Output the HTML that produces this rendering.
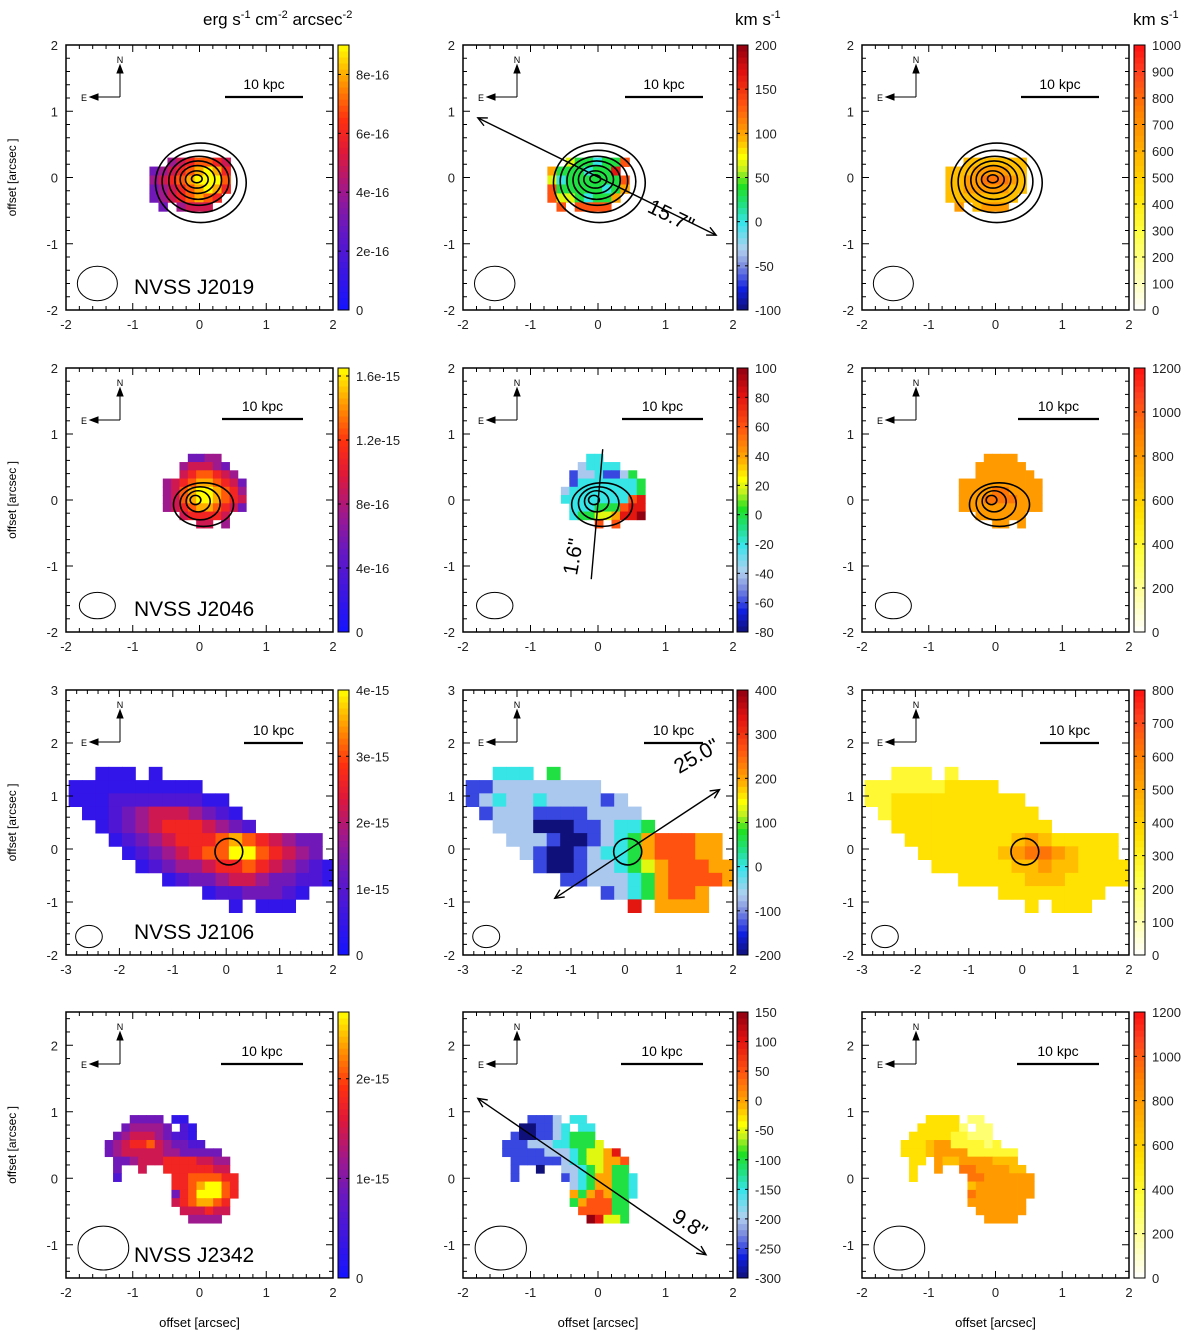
<!DOCTYPE html>
<html><head><meta charset="utf-8">
<style>
html,body{margin:0;padding:0;background:#fff;}
svg{display:block;font-family:"Liberation Sans","DejaVu Sans",sans-serif;}
</style></head>
<body>
<svg id="fig" width="1200" height="1333" viewBox="0 0 1200 1333" xmlns="http://www.w3.org/2000/svg"></svg>
<script>
// ---- layout / axis data ----
const colLeft = [66, 463, 862];
const colRight = [333, 733, 1129];
const rowTop = [45, 368, 690, 1012];
const rowBottom = [310, 632, 955, 1278];
const xRanges = [[-2,2],[-2,2],[-3,2],[-2,2]];
const yRanges = [[-2,2],[-2,2],[-2,3],[-1.5,2.5]];
const xTickLabels = [[-2,-1,0,1,2],[-2,-1,0,1,2],[-3,-2,-1,0,1,2],[-2,-1,0,1,2]];
const yTickLabels = [[-2,-1,0,1,2],[-2,-1,0,1,2],[-2,-1,0,1,2,3],[-1,0,1,2]];
const objectNames = ["NVSS J2019","NVSS J2046","NVSS J2106","NVSS J2342"];

// colorbar ranges [row][col]
const cbMin = [[0,-100,0],[0,-80,0],[0,-200,0],[0,-300,0]];
const cbMax = [[9e-16,200,1000],[1.65e-15,100,1200],[4e-15,400,800],[2.67e-15,150,1200]];
const cbTicks = [
  [[0,2e-16,4e-16,6e-16,8e-16],[-100,-50,0,50,100,150,200],[0,100,200,300,400,500,600,700,800,900,1000]],
  [[0,4e-16,8e-16,1.2e-15,1.6e-15],[-80,-60,-40,-20,0,20,40,60,80,100],[0,200,400,600,800,1000,1200]],
  [[0,1e-15,2e-15,3e-15,4e-15],[-200,-100,0,100,200,300,400],[0,100,200,300,400,500,600,700,800]],
  [[0,1e-15,2e-15],[-300,-250,-200,-150,-100,-50,0,50,100,150],[0,200,400,600,800,1000,1200]]
];
const cbTickText = [
  [["0","2e-16","4e-16","6e-16","8e-16"],null,null],
  [["0","4e-16","8e-16","1.2e-15","1.6e-15"],null,null],
  [["0","1e-15","2e-15","3e-15","4e-15"],null,null],
  [["0","1e-15","2e-15"],null,null]
];

// ---- map grids: origin (arcsec, top-left), cell size, value strings (0-9) ----
const gridX0 = [-0.75, -0.55, -2.95, -1.42];
const gridY0 = [0.30, 0.70, 1.55, 0.95];
const gridCell = [0.135, 0.125, 0.25, 0.125];

const r1Flux = ["..4567765","345678986","456789997","345678986","34567876.",".3.4555.."];
const r1Vel  = ["..5443447","64443448.","534444447","744444346","75543446.",".7.7777.."];
const r1Sig  = ["..5555555","555666655","556677765","556666655","55555555.",".6.5666.."];

const r2Flux = ["...3344...","..455543..","..5677654.","4567887653","4578998764","4578998765","4567887653","..566665..","....55.4.."];
const r2Vel  = ["...33.....","..23333...",".12231124.",".133333334","2333333334","3333333378",".333444788",".344556889","....7.7..."];
const r2Sig  = ["...6666...","..666666..","..6666666.","6666666666","6666776666","6667777666","6666666666","..666666..","....66.6.."];

const r3Flux = [
 "..111.1",
 "1111111111",
 "111222222211",
 ".112345554321",
 "..123456665432",
 "...1234566678765433",
 "....123456779976543",
 ".....123445667654321",
 ".......1233455433221",
 "..........12233321",
 "............1.111"];
const r3Vel = [
 "..333.4",
 "1122222222",
 "123223222212",
 ".122211112222",
 "..222000112334",
 "...2221001234677766",
 "....210012334677766",
 ".....100122345677766",
 ".......1122234677776",
 "..........12346776",
 "............8.6666"];
const r3Sig = [
 "..333.3",
 "3333334444",
 "334444444444",
 ".344444444444",
 "..444444444444",
 "...4444444456544444",
 "....444444567765444",
 ".....444444556554444",
 ".......4444455544444",
 "..........44444444",
 "............4.444"];

const r4Flux = [
 "...3333.11",
 "..344443.21",
 ".3455543221",
 "345667543322",
 "34555554433333",
 ".33455566665544",
 ".3..5..66666655",
 ".2......66777766",
 "........66789976",
 "........36799976",
 "........5678876",
 ".........555655",
 "..........4444"];
const r4Vel = [
 "...1112.33",
 "..001123.33",
 ".1001123444",
 "111222334445",
 "11111222345568",
 ".11111123455667",
 ".1..0..22345644",
 ".1.....123466443",
 "........23466443",
 "........64676443",
 "........4677744",
 ".........777744",
 "..........98554"];
const r4Sig = [
 "...4444.22",
 "..444442.22",
 ".4444433222",
 "444566333323",
 "44456666333333",
 ".44.6556666555",
 ".4..6..77666655",
 ".4......77666666",
 "........56666666",
 "........76666666",
 "........6666666",
 ".........666666",
 "..........6666"];

const gridSets = [[r1Flux,r1Vel,r1Sig],[r2Flux,r2Vel,r2Sig],[r3Flux,r3Vel,r3Sig],[r4Flux,r4Vel,r4Sig]];

// contours: [cx, cy, rx, ry] in arcsec
const contourRow1 = [[-0.04,-0.02,0.08,0.06],[-0.04,-0.03,0.17,0.13],[-0.03,-0.03,0.26,0.21],[-0.02,-0.04,0.35,0.29],[-0.01,-0.05,0.45,0.37],[0.0,-0.06,0.56,0.47],[0.02,-0.08,0.68,0.6]];
const contourRow2 = [[-0.06,0.0,0.08,0.07],[-0.02,-0.02,0.18,0.16],[0.01,-0.05,0.3,0.25],[0.06,-0.07,0.45,0.33]];
const contourRow3 = [[0.05,-0.05,0.26,0.25]];
const contourSets = [contourRow1, contourRow2, contourRow3, []];

// beams: [cx, cy, rx, ry] in arcsec
const beamRow = [[-1.53,-1.6,0.3,0.26],[-1.53,-1.6,0.27,0.2],[-2.57,-1.65,0.25,0.21],[-1.44,-1.05,0.38,0.33]];

// PA lines in velocity panels: [x1,y1,x2,y2] arcsec + label
const paLines = [[-1.78,0.9,1.75,-0.87],[0.07,0.77,-0.1,-1.2],[-1.3,-0.93,1.75,1.12],[-1.78,1.2,1.6,-1.15]];
const paLabels = ["15.7\"","1.6\"","25.0\"","9.8\""];

// ---- colormaps ----
const fluxStops = [[0,[20,20,255]],[0.3,[100,24,196]],[0.45,[160,24,140]],[0.6,[225,24,56]],[0.72,[255,48,16]],[0.86,[255,150,0]],[1,[255,255,0]]];
const velStops = [[0,[16,16,122]],[0.08,[16,32,224]],[0.17,[128,144,224]],[0.23,[176,208,240]],[0.33,[56,228,235]],[0.40,[32,224,128]],[0.47,[32,224,32]],[0.53,[192,240,32]],[0.58,[255,255,0]],[0.65,[255,176,0]],[0.78,[255,80,16]],[0.9,[224,16,16]],[1,[144,0,16]]];
const sigStops = [[0,[255,255,255]],[0.15,[255,255,160]],[0.3,[255,255,64]],[0.45,[255,224,0]],[0.6,[255,176,0]],[0.75,[255,128,0]],[0.9,[255,64,32]],[1,[255,16,16]]];
const cmaps = [fluxStops, velStops, sigStops];
function cmap(stops, f){
  f=Math.max(0,Math.min(1,f));
  for(let i=1;i<stops.length;i++){
    if(f<=stops[i][0]){
      const a=stops[i-1],b=stops[i],t=(f-a[0])/(b[0]-a[0]);
      const c=a[1].map((v,k)=>Math.round(v+(b[1][k]-v)*t));
      return `rgb(${c[0]},${c[1]},${c[2]})`;
    }
  }
  const c=stops[stops.length-1][1];return `rgb(${c[0]},${c[1]},${c[2]})`;
}

const NS="http://www.w3.org/2000/svg";
const svg=document.getElementById('fig');
function el(tag, attrs, parent){
  const e=document.createElementNS(NS,tag);
  for(const k in attrs) e.setAttribute(k,attrs[k]);
  (parent||svg).appendChild(e);
  return e;
}

const defs=el('defs',{});

for(let r=0;r<4;r++){
  for(let c=0;c<3;c++){
    const L=colLeft[c],R=colRight[c],T=rowTop[r],B=rowBottom[r];
    const W=R-L,H=B-T;
    const xr=xRanges[r],yr=yRanges[r];
    const sx=v=>L+(v-xr[0])/(xr[1]-xr[0])*W;
    const sy=v=>T+(yr[1]-v)/(yr[1]-yr[0])*H;
    const g=el('g',{});
    
    
    const cp=el('clipPath',{id:`cp${r}${c}`},defs);
    el('rect',{x:L,y:T,width:W,height:H},cp);
    const mg=el('g',{'clip-path':`url(#cp${r}${c})`},g);
    
    
    const rows=gridSets[r][c];
    const cs=gridCell[r];
    rows.forEach((str,i)=>{
      for(let j=0;j<str.length;j++){
        const ch=str[j]; if(ch==='.') continue;
        const v=parseInt(ch,10)/9;
        const x0=sx(gridX0[r]+j*cs), x1=sx(gridX0[r]+(j+1)*cs);
        const y0=sy(gridY0[r]-i*cs), y1=sy(gridY0[r]-(i+1)*cs);
        const cell=el('rect',{x:x0,y:y0,width:x1-x0+0.4,height:y1-y0+0.4,fill:cmap(cmaps[c],v)},mg);
        
        
      }
    });
    contourSets[r].forEach(ct=>{
      const e=el('ellipse',{cx:sx(ct[0]),cy:sy(ct[1]),rx:ct[2]*W/(xr[1]-xr[0]),ry:ct[3]*H/(yr[1]-yr[0]),fill:'none',stroke:'#000','stroke-width':1.6},g);
      
      
    });
    const bm=beamRow[r];
    const be=el('ellipse',{cx:sx(bm[0]),cy:sy(bm[1]),rx:bm[2]*W/(xr[1]-xr[0]),ry:bm[3]*H/(yr[1]-yr[0]),fill:'none',stroke:'#000','stroke-width':1},g);
    
    
    const fr=el('rect',{x:L,y:T,width:W,height:H,fill:'none',stroke:'#000','stroke-width':1.5},g);
    
    
    const tg=el('g',{stroke:'#000','stroke-width':1},g);
    for(let v=Math.ceil(xr[0]/0.2)*0.2; v<=xr[1]+1e-6; v+=0.2){
      const isMaj=Math.abs(v-Math.round(v))<1e-6, len=isMaj?7:4, X=sx(v);
      el('line',{x1:X,y1:B,x2:X,y2:B-len},tg); el('line',{x1:X,y1:T,x2:X,y2:T+len},tg);
    }
    for(let v=Math.ceil(yr[0]/0.2-1e-6)*0.2; v<=yr[1]+1e-6; v+=0.2){
      const isMaj=Math.abs(v-Math.round(v))<1e-6, len=isMaj?7:4, Y=sy(v);
      el('line',{x1:L,y1:Y,x2:L+len,y2:Y},tg); el('line',{x1:R,y1:Y,x2:R-len,y2:Y},tg);
    }
    xTickLabels[r].forEach(v=>{
      const t=el('text',{x:sx(v),y:B+19,'font-size':13,'text-anchor':'middle',fill:'#222'},g);
      t.textContent=v;  
    });
    yTickLabels[r].forEach(v=>{
      const t=el('text',{x:L-8,y:sy(v)+5,'font-size':13,'text-anchor':'end',fill:'#222'},g);
      t.textContent=v;  
    });
    const cx=L+54, cy=T+52;
    const cg=el('g',{stroke:'#000','stroke-width':1,fill:'none'},g);
    
    
    el('line',{x1:cx,y1:cy,x2:cx,y2:cy-30},cg);
    el('line',{x1:cx,y1:cy,x2:cx-28,y2:cy},cg);
    el('path',{d:`M${cx-3},${cy-24} L${cx},${cy-32} L${cx+3},${cy-24} Z`,fill:'#000'},cg);
    el('path',{d:`M${cx-22},${cy-3} L${cx-30},${cy} L${cx-22},${cy+3} Z`,fill:'#000'},cg);
    let tn=el('text',{x:cx,y:cy-34,'font-size':9,'text-anchor':'middle'},g); tn.textContent='N';
     
    let te=el('text',{x:cx-33,y:cy+4,'font-size':9,'text-anchor':'end'},g); te.textContent='E';
     
    const sbLen=[78,81,59,82][r];
    const sbY=T+[52,51,53,52][r];
    const sbR=R-30;
    const sb=el('line',{x1:sbR-sbLen,y1:sbY,x2:sbR,y2:sbY,stroke:'#000','stroke-width':2.2},g);
     
    const st=el('text',{x:sbR-sbLen/2,y:sbY-8,'font-size':14,'text-anchor':'middle'},g); st.textContent='10 kpc';
     
    if(c===0){
      const nt=el('text',{x:L+68,y:B-16,'font-size':21},g); nt.textContent=objectNames[r];
       
      const yt=el('text',{x:0,y:0,'font-size':12,'text-anchor':'middle',transform:`translate(16,${(T+B)/2}) rotate(-90)`},g);
      yt.textContent='offset [arcsec ]';  
    }
    if(r===3){
      const xt=el('text',{x:(L+R)/2,y:1327,'font-size':13,'text-anchor':'middle'},g);
      xt.textContent='offset [arcsec]';  
    }
    if(c===1){
      const p=paLines[r];
      const X1=sx(p[0]),Y1=sy(p[1]),X2=sx(p[2]),Y2=sy(p[3]);
      const pl=el('line',{x1:X1,y1:Y1,x2:X2,y2:Y2,stroke:'#000','stroke-width':1.4},g);
       
      if(r!==1){
        const ang=Math.atan2(Y2-Y1,X2-X1);
        [[X1,Y1,ang+Math.PI],[X2,Y2,ang]].forEach(a=>{
          const hx=a[0],hy=a[1],t=a[2],s=10,w=0.45;
          const ph=el('path',{d:`M${hx-s*Math.cos(t-w)},${hy-s*Math.sin(t-w)} L${hx},${hy} L${hx-s*Math.cos(t+w)},${hy-s*Math.sin(t+w)}`,fill:'none',stroke:'#000','stroke-width':1.4},g);
           
        });
      }
      const lp=[[668,222,26],[580,558,-80],[700,762,-30],[686,1230,33]][r];
      const ptx=el('text',{x:0,y:0,'font-size':21,'text-anchor':'middle',transform:`translate(${lp[0]},${lp[1]}) rotate(${lp[2]})`},g);
      ptx.textContent=paLabels[r];  
    }
    const CL=[338,737,1134][c], CW=11;
    const cbg=el('g',{},g);
    
    
    const N=44;
    for(let k=0;k<N;k++){
      el('rect',{x:CL,y:B-(k+1)*H/N,width:CW,height:H/N+0.5,fill:cmap(cmaps[c],(k+0.5)/N)},cbg);
    }
    el('rect',{x:CL,y:T,width:CW,height:H,fill:'none',stroke:'#000','stroke-width':1},cbg);
    const mn=cbMin[r][c],mx=cbMax[r][c];
    cbTicks[r][c].forEach((v,k)=>{
      const Y=B-(v-mn)/(mx-mn)*H;
      el('line',{x1:CL,y1:Y,x2:CL+3,y2:Y,stroke:'#000'},cbg);
      el('line',{x1:CL+CW,y1:Y,x2:CL+CW-3,y2:Y,stroke:'#000'},cbg);
      const lbl=cbTickText[r][c]?cbTickText[r][c][k]:String(v);
      const t=el('text',{x:CL+CW+7,y:Y+5,'font-size':13,fill:'#222'},cbg);
      t.textContent=lbl;  
    });
  }
}
const h1=el('text',{x:203,y:25,'font-size':17});
 
h1.innerHTML='erg s<tspan dy="-7" font-size="11">-1</tspan><tspan dy="7"> cm</tspan><tspan dy="-7" font-size="11">-2</tspan><tspan dy="7"> arcsec</tspan><tspan dy="-7" font-size="11">-2</tspan>';
[[735],[1133]].forEach((p,i)=>{
  const h=el('text',{x:p[0],y:25,'font-size':17});
  
  
  h.innerHTML='km s<tspan dy="-7" font-size="11">-1</tspan>';
});
</script>
</body></html>
